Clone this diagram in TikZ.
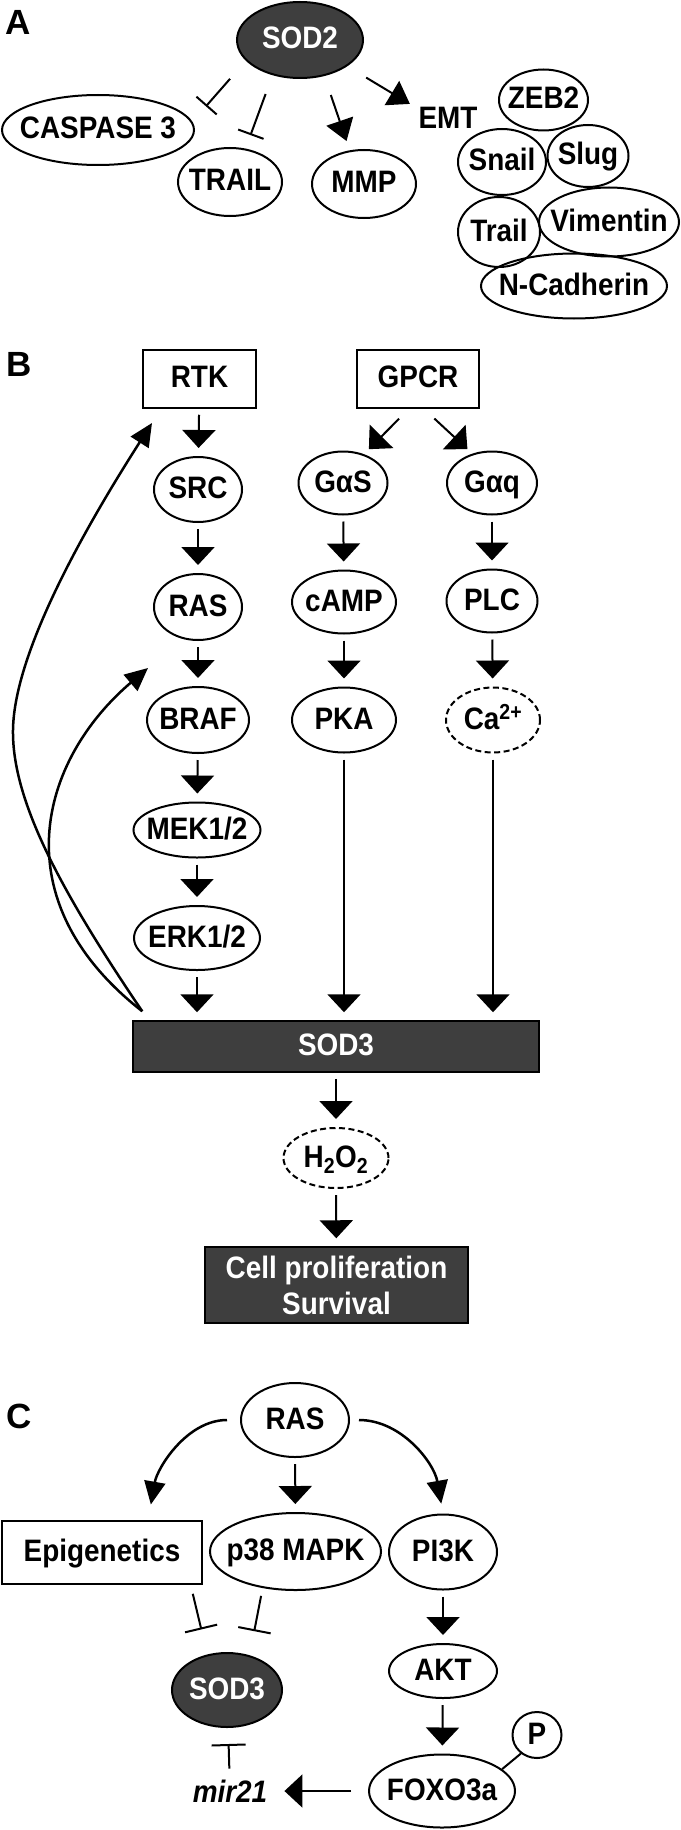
\documentclass[tikz,border=0pt]{standalone}
\usepackage{fontspec}
\setmainfont{Liberation Sans}[FakeStretch=0.9]
\newfontfamily\lblfont{Liberation Sans}
\usetikzlibrary{arrows.meta,shapes.geometric}
\definecolor{sodgray}{RGB}{62,62,62}
\begin{document}
\begin{tikzpicture}[x=1pt,y=-1pt,
  every node/.style={font=\bfseries\fontsize{31}{36}\selectfont, inner sep=0pt},
  prot/.style 2 args={ellipse, draw, line width=2pt, minimum width=#1, minimum height=#2,
    text height=22pt, text depth=4pt,
    execute at begin node={\hbox to 0pt\bgroup\hss}, execute at end node={\hss\egroup}},
  protdash/.style 2 args={prot={#1}{#2}, dash pattern=on 6pt off 3.5pt},
  protdark/.style 2 args={prot={#1}{#2}, fill=sodgray, text=white},
  recbox/.style 2 args={rectangle, draw, line width=1.5pt, minimum width=#1, minimum height=#2,
    text height=22pt, text depth=5pt},
  recdark/.style 2 args={recbox={#1}{#2}, fill=sodgray, text=white},
  panellbl/.style={font=\lblfont\bfseries\fontsize{35}{35}\selectfont},
  actarr/.style={line width=2pt, -{Triangle[width=33pt,length=18pt]}, shorten <=6pt, shorten >=8pt},
  actarrA/.style={line width=2pt, -{Triangle[width=28pt,length=21pt]}},
  bentarr/.style={line width=2.5pt, -{Triangle[width=21pt,length=23pt]}},
  inhbar/.style={line width=2pt, -{Bar[width=#1]}}, inhbar/.default=27pt]

  \path[use as bounding box, fill=white] (0,0) rectangle (680,1830);

  \node[panellbl] (lblA) at (18,22) {A};
  \node[protdark={126}{76}] (sodA) at (300,40) {SOD2};
  \node[prot={192}{70}] (casp) at (98,130) {CASPASE 3};
  \node[prot={104}{68}] (trailA) at (230,182) {TRAIL};
  \node[prot={104}{68}] (mmp) at (364,184) {MMP};
  \node (emt) at (448,117.5) {EMT};
  \node[prot={89}{61}] (zeb) at (543.5,100) {ZEB2};
  \node[prot={88}{66}] (snail) at (502,162) {Snail};
  \node[prot={81}{62}] (slug) at (588,156) {Slug};
  \node[prot={82}{70}] (trailB) at (499,232) {Trail};
  \node[prot={140}{69}] (vim) at (609,222) {Vimentin};
  \node[prot={186}{65}] (ncad) at (574,286) {N-Cadherin};

  \draw[inhbar, shorten <=24pt, shorten >=20.5pt] (sodA.201) -- (casp.5);
  \draw[inhbar, shorten <=20pt, shorten >=14.3pt] (sodA.232) -- (trailA.65);
  \draw[actarrA, shorten <=20pt, shorten >=9.8pt] (sodA.304) -- (mmp.113);
  \draw[actarrA, shorten <=22pt, shorten >=9.9pt] (sodA.331) -- (emt.164);

  \node[panellbl] (lblB) at (19,364) {B};
  \node[recbox={113}{58}] (rtk) at (199.5,379) {RTK};
  \node[recbox={122}{58}] (gpcr) at (418,379) {GPCR};
  \node[prot={88}{65}] (src) at (198,489.5) {SRC};
  \node[prot={89}{63}] (gas) at (343,483) {GαS};
  \node[prot={90}{63}] (gaq) at (492,483) {Gαq};
  \node[prot={88}{66}] (rasB) at (198,607) {RAS};
  \node[prot={104}{63}] (camp) at (344,602) {cAMP};
  \node[prot={91}{63}] (plc) at (492,601) {PLC};
  \node[prot={102}{66}] (braf) at (198,720) {BRAF};
  \node[prot={104}{65}] (pka) at (344,720) {PKA};
  \node[protdash={94}{65}] (ca) at (493,720) {Ca\textsuperscript{2+}};
  \node[prot={127}{55}] (mek) at (197,830) {MEK1/2};
  \node[prot={126}{64}] (erk) at (197,938) {ERK1/2};
  \node[recdark={406}{51}] (sodB) at (336,1046.5) {SOD3};
  \node[protdash={105}{60}] (hoo) at (336,1158) {H\textsubscript{2}O\textsubscript{2}};
  \node[rectangle, draw, line width=1.5pt, fill=sodgray, text=white, align=center,
    minimum width=263, minimum height=76] (cell) at (336.5,1285) {Cell proliferation\\Survival};

  \draw[actarr] (rtk) -- (src);
  \draw[actarr] (src) -- (rasB);
  \draw[actarr] (rasB) -- (braf);
  \draw[actarr] (braf) -- (mek);
  \draw[actarr] (mek) -- (erk);
  \draw[actarr] (erk) -- (erk |- sodB.north);
  \draw[actarr, shorten <=14pt, shorten >=7pt] (gpcr.253) -- (gas.54);
  \draw[actarr, shorten <=14.4pt, shorten >=6.5pt] (gpcr.281) -- (gaq.124);
  \draw[actarr] (gas) -- (camp);
  \draw[actarr] (camp) -- (pka);
  \draw[actarr] (gaq) -- (plc);
  \draw[actarr] (plc) -- (ca);
  \draw[actarr] (pka) -- (pka |- sodB.north);
  \draw[actarr] (ca) -- (ca |- sodB.north);
  \draw[actarr] (sodB) -- (hoo);
  \draw[actarr] (hoo) -- (cell);

  \coordinate (fbfoot) at ([shift={(10,-9)}]sodB.north west);
  \coordinate (fbrtk) at (152,423);
  \coordinate (fbras) at (148,668);
  \draw[bentarr] (fbfoot) .. controls (60,890) and (12,800) .. (13,730)
    .. controls (14,650) and (90,520) .. (fbrtk);
  \draw[bentarr] (fbfoot) .. controls (0,900) and (40,760) .. (fbras);

  \node[panellbl] (lblC) at (19,1416) {C};
  \node[prot={108}{74}] (rasC) at (295,1420) {RAS};
  \node[recbox={200}{63}] (epi) at (102,1552.5) {Epigenetics};
  \node[prot={171}{77}] (p38) at (295.5,1551.5) {p38 MAPK};
  \node[prot={108}{75}] (pik) at (443,1552) {PI3K};
  \node[prot={108}{54}] (akt) at (443,1671) {AKT};
  \node[prot={146}{73}] (foxo) at (442,1791) {FOXO3a};
  \node[prot={49}{46}] (phos) at (537,1735) {P};
  \node[protdark={110}{74}] (sodC) at (227,1690) {SOD3};
  \node[font=\bfseries\itshape\fontsize{31}{36}\selectfont] (mir) at (230,1791) {mir21};

  \draw[bentarr, shorten <=13pt, shorten >=16pt] (rasC.west) to[out=180,in=80] (epi.35);
  \draw[actarr] (rasC) -- (p38);
  \draw[bentarr, shorten <=9pt, shorten >=10pt] (rasC.east) to[out=0,in=100] (pik.north);
  \draw[inhbar=33pt, shorten <=9.3pt, shorten >=25.7pt] (epi.-20) -- (sodC.119);
  \draw[inhbar=33pt, shorten <=8pt, shorten >=24.5pt] (p38.228) -- (sodC.57);
  \draw[inhbar=34pt, shorten <=11pt, shorten >=16pt] (mir) -- (sodC);
  \draw[actarr, shorten <=17pt, shorten >=17pt] (foxo.west) -- (mir.east);
  \draw[line width=2pt] (foxo.20) -- (phos.229);
  \draw[actarr] (pik) -- (akt);
  \draw[actarr] (akt) -- (foxo);
\end{tikzpicture}
\end{document}
